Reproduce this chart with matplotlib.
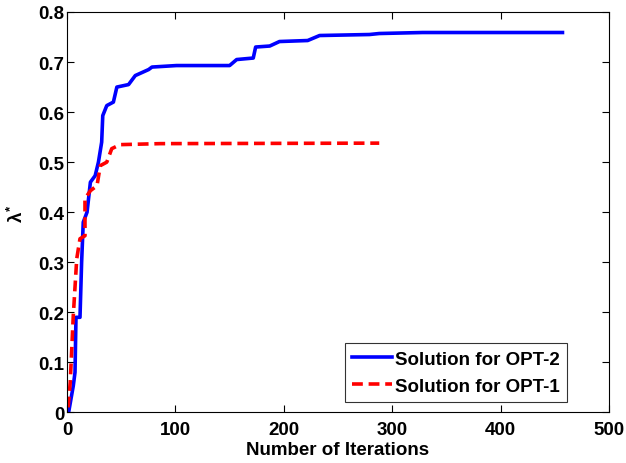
import matplotlib
matplotlib.use("Agg")
import matplotlib.pyplot as plt

plt.rcParams['font.family'] = ['Liberation Sans', 'DejaVu Sans']
plt.rcParams['font.weight'] = 'bold'
plt.rcParams['mathtext.fontset'] = 'custom'
plt.rcParams['mathtext.rm'] = 'Liberation Sans:bold'
plt.rcParams['mathtext.it'] = 'Liberation Sans:bold'

# OPT-2 (blue, solid)
x_opt2 = [1.5, 5.8, 7.4, 8.3, 12, 13.5, 15, 18.5, 21.6, 26, 29, 32, 33, 36.7, 42.8, 46,
          56.8, 63, 75.3, 78.4, 101, 150, 156.5, 171.8, 174, 187, 196, 222, 233, 279,
          288, 328, 457]
y_opt2 = [0.0, 0.053, 0.08, 0.19, 0.19, 0.30, 0.38, 0.40, 0.46, 0.473, 0.50, 0.54, 0.593,
          0.613, 0.62, 0.65, 0.655, 0.673, 0.685, 0.69, 0.693, 0.693, 0.705, 0.708, 0.73,
          0.732, 0.741, 0.743, 0.753, 0.755, 0.757, 0.759, 0.759]

# OPT-1 (red, dashed)
x_opt1 = [1, 3, 5.8, 9, 12, 16.6, 16.6, 21.6, 27.7, 30.7, 36.7, 41.3, 49, 86, 288]
y_opt1 = [0.01, 0.06, 0.193, 0.307, 0.347, 0.353, 0.427, 0.443, 0.453, 0.493, 0.50,
          0.527, 0.535, 0.537, 0.538]

x_ticks = [0, 100, 200, 300, 400, 500]
y_ticks = [0, 0.1, 0.2, 0.3, 0.4, 0.5, 0.6, 0.7, 0.8]
y_ticklabels = ['0', '0.1', '0.2', '0.3', '0.4', '0.5', '0.6', '0.7', '0.8']

FS = 13.5

fig = plt.figure(figsize=(6.26, 4.64), dpi=100)
ax = fig.add_axes([0.107, 0.109, 0.866, 0.863])

ax.plot(x_opt2, y_opt2, color='#0000ff', lw=2.6, label='Solution for OPT-2')
ax.plot(x_opt1, y_opt1, color='#ff0000', lw=2.6, ls=(0, (3, 1.6)), label='Solution for OPT-1')

ax.set_xlim(0, 500)
ax.set_ylim(0, 0.8)
ax.set_xticks(x_ticks)
ax.set_xticklabels([str(t) for t in x_ticks])
ax.set_yticks(y_ticks)
ax.set_yticklabels(y_ticklabels)
ax.tick_params(direction='in', top=True, right=True, labelsize=FS, length=5, width=0.8)
ax.tick_params(axis='x', pad=6)
ax.tick_params(axis='y', pad=2)
for lbl in ax.get_xticklabels() + ax.get_yticklabels():
    lbl.set_fontweight('bold')
for s in ax.spines.values():
    s.set_linewidth(0.8)

ax.set_xlabel('Number of Iterations', fontsize=FS, fontweight='bold', labelpad=2)
ax.set_ylabel(r'$\lambda^{*}$', fontsize=FS, fontweight='bold', labelpad=8)

leg = ax.legend(loc='lower right', bbox_to_anchor=(0.922, 0.026), fontsize=FS,
                frameon=True, fancybox=False, edgecolor='black', handlelength=2.1,
                handletextpad=0.15, borderpad=0.4, labelspacing=0.5, borderaxespad=0)
leg.get_frame().set_linewidth(0.8)
for t in leg.get_texts():
    t.set_fontweight('bold')

fig.savefig('out.png', dpi=100)
